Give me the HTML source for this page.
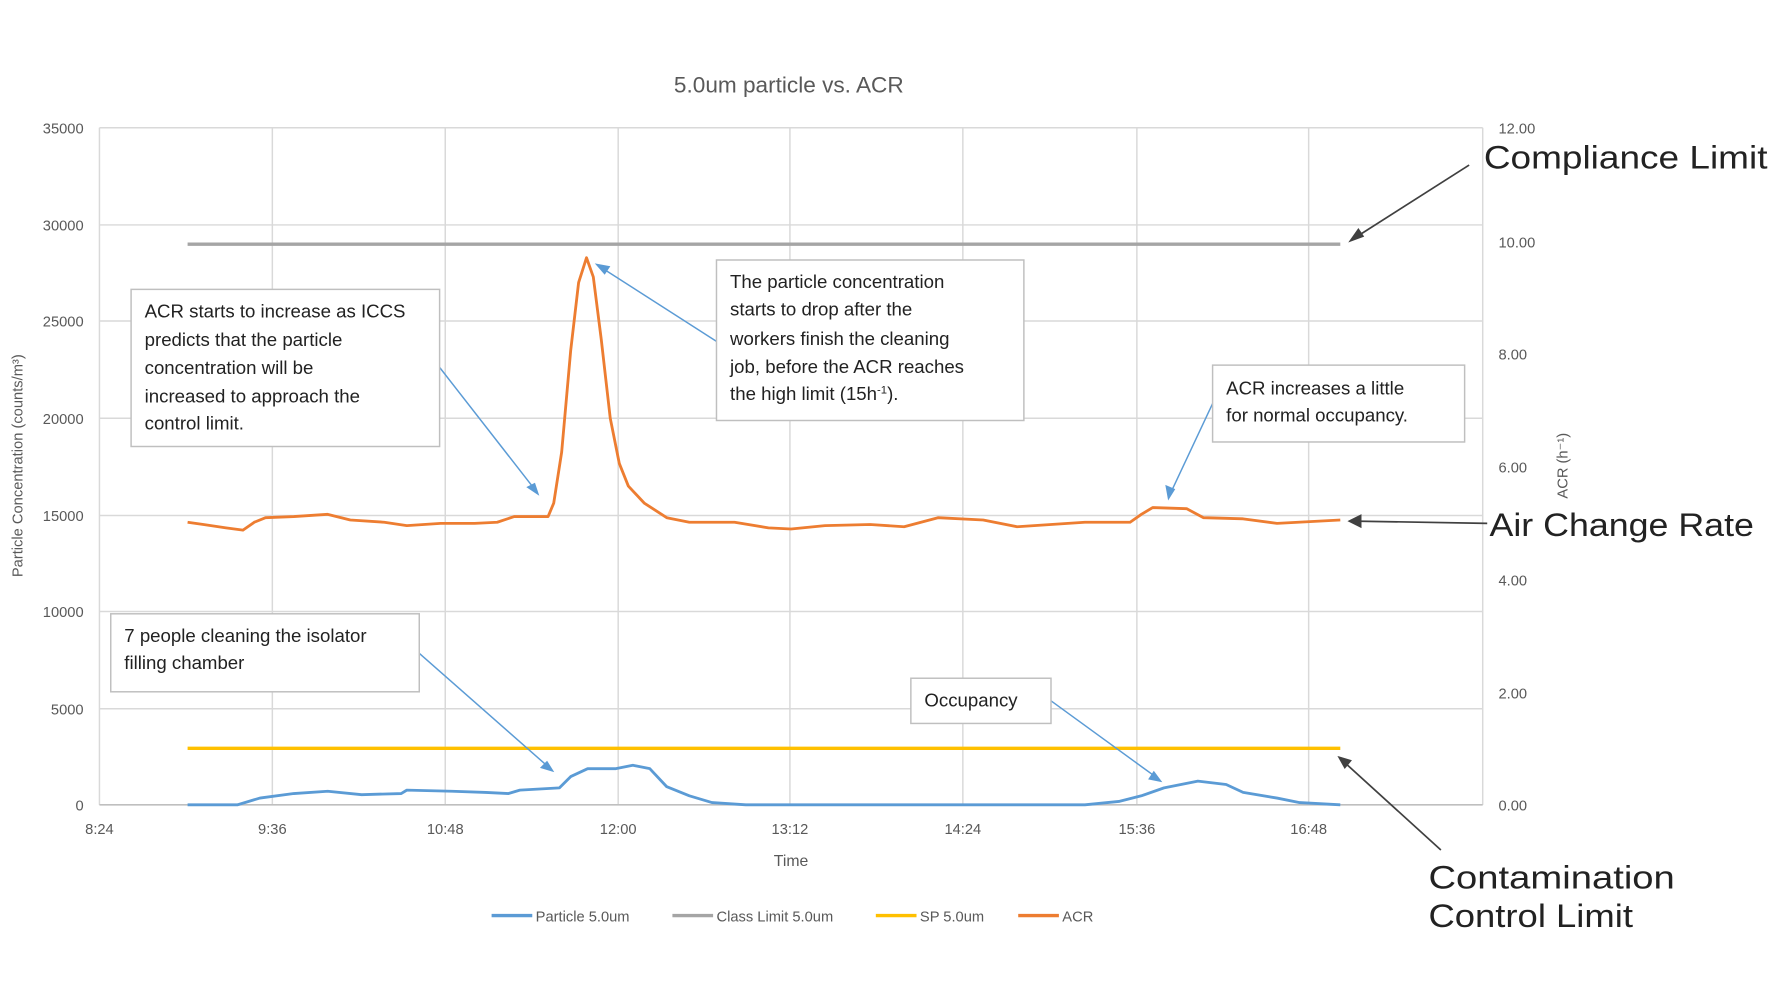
<!DOCTYPE html>
<html><head><meta charset="utf-8"><style>
html,body{margin:0;padding:0;background:#fff;}
svg{display:block;font-family:"Liberation Sans",sans-serif;}
</style></head><body>
<svg width="1772" height="997" viewBox="0 0 1568 882" preserveAspectRatio="none" xmlns="http://www.w3.org/2000/svg">
<rect width="1568" height="882" fill="#fff"/>
<text x="698" y="82" font-size="20" fill="#595959" text-anchor="middle">5.0um particle vs. ACR</text>
<g stroke="#d9d9d9" stroke-width="1.3">
<line x1="88" y1="113" x2="1312" y2="113"/><line x1="88" y1="199" x2="1312" y2="199"/>
<line x1="88" y1="284" x2="1312" y2="284"/><line x1="88" y1="370" x2="1312" y2="370"/>
<line x1="88" y1="456" x2="1312" y2="456"/><line x1="88" y1="541" x2="1312" y2="541"/>
<line x1="88" y1="627" x2="1312" y2="627"/>
<line x1="88" y1="113" x2="88" y2="712"/><line x1="241" y1="113" x2="241" y2="712"/>
<line x1="394" y1="113" x2="394" y2="712"/><line x1="547" y1="113" x2="547" y2="712"/>
<line x1="699" y1="113" x2="699" y2="712"/><line x1="852" y1="113" x2="852" y2="712"/>
<line x1="1006" y1="113" x2="1006" y2="712"/><line x1="1158" y1="113" x2="1158" y2="712"/>
<line x1="1312" y1="113" x2="1312" y2="712"/>
</g>
<line x1="88" y1="712" x2="1312" y2="712" stroke="#bfbfbf" stroke-width="1.5"/>
<g font-size="13" fill="#595959" text-anchor="end">
<text x="74" y="118">35000</text><text x="74" y="204">30000</text><text x="74" y="289">25000</text>
<text x="74" y="375">20000</text><text x="74" y="461">15000</text><text x="74" y="546">10000</text>
<text x="74" y="632">5000</text><text x="74" y="717">0</text>
</g>
<g font-size="13" fill="#595959">
<text x="1326" y="118">12.00</text><text x="1326" y="219">10.00</text><text x="1326" y="318">8.00</text>
<text x="1326" y="418">6.00</text><text x="1326" y="518">4.00</text><text x="1326" y="618">2.00</text>
<text x="1326" y="717">0.00</text>
</g>
<g font-size="13" fill="#595959" text-anchor="middle">
<text x="88" y="738">8:24</text><text x="241" y="738">9:36</text><text x="394" y="738">10:48</text>
<text x="547" y="738">12:00</text><text x="699" y="738">13:12</text><text x="852" y="738">14:24</text>
<text x="1006" y="738">15:36</text><text x="1158" y="738">16:48</text>
<text x="700" y="766" font-size="14">Time</text>
</g>
<text transform="translate(20,412) rotate(-90)" font-size="13" fill="#595959" text-anchor="middle">Particle Concentration (counts/m³)</text>
<text transform="translate(1387,412) rotate(-90)" font-size="13" fill="#595959" text-anchor="middle">ACR (h⁻¹)</text>
<line x1="166" y1="216" x2="1186" y2="216" stroke="#a5a5a5" stroke-width="3"/>
<line x1="166" y1="662" x2="1186" y2="662" stroke="#ffc000" stroke-width="3"/>
<polyline fill="none" stroke="#ed7d31" stroke-width="2.5" stroke-linejoin="round" points="166,462 180,464 200,467 215,469 225,462 235,458 260,457 290,455 310,460 340,462 360,465 390,463 420,463 440,462 455,457 485,457 490,445 497,400 505,310 512,250 519,228 525,245 532,300 540,370 548,410 556,430 570,445 590,458 610,462 650,462 680,467 700,468 730,465 770,464 800,466 830,458 870,460 900,466 930,464 960,462 1000,462 1010,455 1020,449 1050,450 1065,458 1100,459 1130,463 1186,460"/>
<polyline fill="none" stroke="#5b9bd5" stroke-width="2.5" stroke-linejoin="round" points="166,712 210,712 230,706 260,702 290,700 320,703 355,702 360,699 400,700 430,701 450,702 460,699 495,697 505,687 520,680 545,680 560,677 575,680 590,696 610,704 630,710 660,712 960,712 990,709 1010,704 1030,697 1060,691 1085,694 1100,701 1130,706 1150,710 1186,712"/>
<g stroke="#5b9bd5" stroke-width="1.3" fill="#5b9bd5">
<line x1="389" y1="325" x2="474" y2="434"/><polygon points="476,437 467,431 473,428"/>
<line x1="634" y1="302" x2="531" y2="236"/><polygon points="528,234 539,236 535,242"/>
<line x1="1073" y1="357" x2="1035" y2="438"/><polygon points="1034,441 1032,430 1039,433"/>
<line x1="371" y1="578" x2="487" y2="680"/><polygon points="489,682 479,679 484,674"/>
<line x1="930" y1="620" x2="1025" y2="689"/><polygon points="1027,691 1017,689 1021,683"/>
</g>
<g fill="#fff" stroke="#bfbfbf" stroke-width="1.3">
<rect x="116" y="256" width="273" height="139"/>
<rect x="634" y="230" width="272" height="142"/>
<rect x="1073" y="323" width="223" height="68"/>
<rect x="98" y="543" width="273" height="69"/>
<rect x="806" y="600" width="124" height="40"/>
</g>
<g font-size="16.5" fill="#222">
<text x="128" y="281">ACR starts to increase as ICCS</text>
<text x="128" y="306">predicts that the particle</text>
<text x="128" y="331">concentration will be</text>
<text x="128" y="356">increased to approach the</text>
<text x="128" y="380">control limit.</text>
<text x="646" y="255">The particle concentration</text>
<text x="646" y="279">starts to drop after the</text>
<text x="646" y="305">workers finish the cleaning</text>
<text x="646" y="330">job, before the ACR reaches</text>
<text x="646" y="354">the high limit (15h<tspan font-size="10" dy="-6">-1</tspan><tspan dy="6">).</tspan></text>
<text x="1085" y="349">ACR increases a little</text>
<text x="1085" y="373">for normal occupancy.</text>
<text x="110" y="568">7 people cleaning the isolator</text>
<text x="110" y="592">filling chamber</text>
<text x="818" y="625">Occupancy</text>
</g>
<g stroke="#404040" stroke-width="1.5" fill="#404040">
<line x1="1300" y1="146" x2="1198" y2="211"/><polygon points="1195,213 1202,203 1206,209"/>
<line x1="1316" y1="463" x2="1198" y2="461"/><polygon points="1194,461 1204,456 1204,466"/>
<line x1="1275" y1="752" x2="1187" y2="672"/><polygon points="1185,670 1195,673 1190,679"/>
</g>
<g font-size="29" fill="#222">
<text x="1313" y="149" textLength="251" lengthAdjust="spacingAndGlyphs">Compliance Limit</text>
<text x="1318" y="474" textLength="234" lengthAdjust="spacingAndGlyphs">Air Change Rate</text>
<text x="1264" y="786" textLength="218" lengthAdjust="spacingAndGlyphs">Contamination</text>
<text x="1264" y="820" textLength="181" lengthAdjust="spacingAndGlyphs">Control Limit</text>
</g>
<g stroke-width="3">
<line x1="435" y1="810" x2="471" y2="810" stroke="#5b9bd5"/>
<line x1="595" y1="810" x2="631" y2="810" stroke="#a5a5a5"/>
<line x1="775" y1="810" x2="811" y2="810" stroke="#ffc000"/>
<line x1="901" y1="810" x2="937" y2="810" stroke="#ed7d31"/>
</g>
<g font-size="13" fill="#595959">
<text x="474" y="815">Particle 5.0um</text>
<text x="634" y="815">Class Limit 5.0um</text>
<text x="814" y="815">SP 5.0um</text>
<text x="940" y="815">ACR</text>
</g>
</svg>
</body></html>
